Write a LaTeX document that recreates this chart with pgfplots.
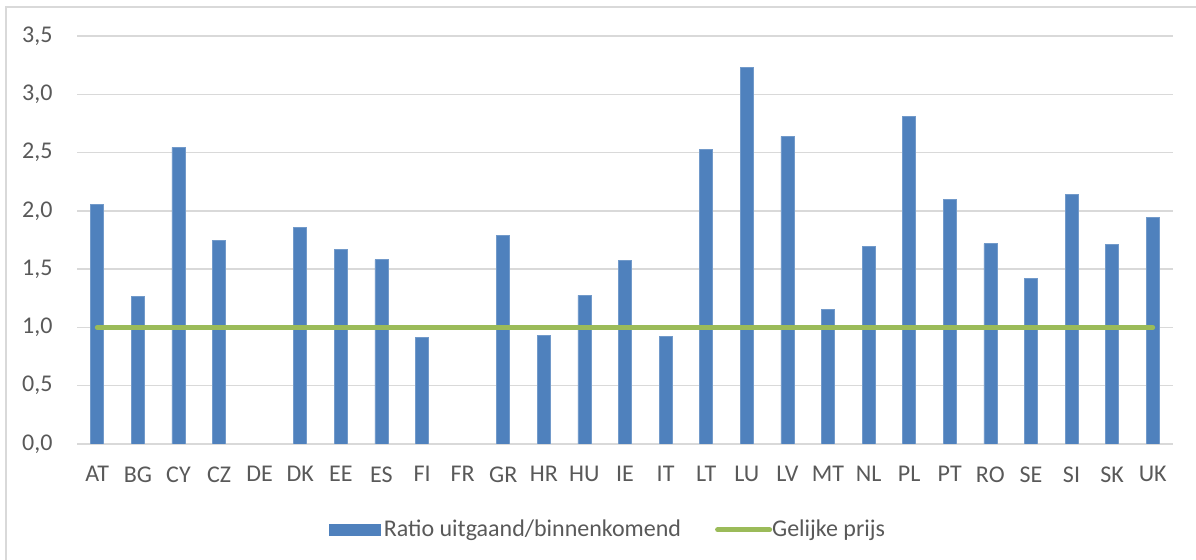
\documentclass[border=0pt]{standalone}
\usepackage{fontspec}
\setmainfont{Carlito}
\usepackage{pgfplots}
\pgfplotsset{compat=1.18}
\definecolor{barblue}{HTML}{4F81BD}
\definecolor{linegreen}{HTML}{9BBB59}
\definecolor{txt}{HTML}{595959}
\definecolor{gridgray}{HTML}{D9D9D9}
\begin{document}
\begin{tikzpicture}[x=1bp,y=1bp]
\useasboundingbox (0,0) rectangle (1196,560);
\draw[gridgray,line width=1.2bp] (6,0) -- (6,553) -- (1196,553);
\begin{axis}[
  at={(77bp,116bp)}, anchor=south west,
  scale only axis, width=1096bp, height=408bp,
  xmin=-0.5, xmax=26.5, ymin=0, ymax=3.5,
  ytick={0,0.5,...,3.5},
  xtick={0,...,26},
  xticklabels={AT,BG,CY,CZ,DE,DK,EE,ES,FI,FR,GR,HR,HU,IE,IT,LT,LU,LV,MT,NL,PL,PT,RO,SE,SI,SK,UK},
  axis line style={draw=none},
  tick style={draw=none},
  ymajorgrids, xmajorgrids=false,
  y grid style={draw=gridgray,line width=1.5bp},
  /pgf/number format/use comma,
  /pgf/number format/fixed,
  /pgf/number format/fixed zerofill,
  /pgf/number format/precision=1,
  /pgf/number format/assume math mode=true,
  ticklabel style={font=\fontsize{24bp}{28bp}\selectfont, text=txt},
  yticklabel style={xshift=-21bp},
  xticklabel style={yshift=-19bp},
  legend style={at={(0.5,-85bp)}, anchor=center, xshift=-18bp, draw=none, legend columns=2,
    font=\fontsize{24bp}{28bp}\selectfont, text=txt,
    /tikz/every even column/.append style={column sep=30bp}},
  legend image code/.code={},
]
\addplot[ybar, bar width=13bp, fill=barblue, draw=barblue!80!white, line width=0.6bp] coordinates {
(0,2.053) (1,1.267) (2,2.545) (3,1.747) (5,1.859) (6,1.667) (7,1.581)
(8,0.915) (10,1.790) (11,0.932) (12,1.275) (13,1.573) (14,0.921) (15,2.528)
(16,3.231) (17,2.639) (18,1.158) (19,1.696) (20,2.811) (21,2.096) (22,1.719)
(23,1.418) (24,2.139) (25,1.713) (26,1.947)
};
\addlegendentry{\tikz[baseline=-0.6ex]\fill[barblue] (0,-6bp) rectangle (52bp,6bp);\hspace{3bp}Ratio uitgaand/binnenkomend}
\addplot[linegreen, line width=5bp, line cap=round] coordinates {
(0,1) (1,1) (2,1) (3,1) (4,1) (5,1) (6,1) (7,1) (8,1) (9,1) (10,1) (11,1) (12,1)
(13,1) (14,1) (15,1) (16,1) (17,1) (18,1) (19,1) (20,1) (21,1) (22,1) (23,1) (24,1) (25,1) (26,1)
};
\addlegendentry{\tikz[baseline=-0.6ex]\draw[linegreen,line width=5bp,line cap=round] (0,0) -- (52bp,0);Gelijke prijs}
\end{axis}
\end{tikzpicture}
\end{document}
